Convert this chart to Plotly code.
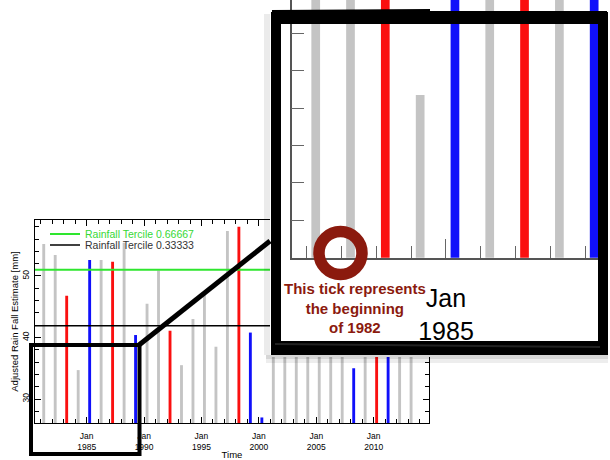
import plotly.graph_objects as go

W, H = 610, 460
FONT = "Liberation Sans, Arial, Helvetica, sans-serif"

# ---------------- data ----------------
YEARS = list(range(1981, 2014))
RAIN = [55.2, 53.4, 46.8, 34.7, 52.6, 52.6, 52.3, 55.4, 40.4,
        45.5, 50.9, 41.1, 35.5, 43.0, 46.9, 38.5, 57.3, 58.0, 40.8, 27.0,
        48.0, 44.5, 52.0, 41.5, 46.0, 50.5, 43.0, 35.0, 47.5, 53.0, 49.0, 45.0, 51.0]
PHASE = ["n", "n", "w", "n", "c", "n", "w", "n", "c",
         "n", "n", "w", "n", "n", "n", "n", "n", "w", "c", "c",
         "n", "n", "n", "n", "n", "n", "n", "c", "n", "w", "c", "n", "n"]
PHASE_COLOR = {"n": "#c4c4c4", "w": "#fa1010", "c": "#1010fa"}
TERCILE_NAMES = ["Rainfall Tercile 0.66667", "Rainfall Tercile 0.33333"]
TERCILE_VALUES = [51.0, 41.9]
TERCILE_COLORS = ["#2ee62e", "#000000"]
TERCILE_TEXT = ["#36d836", "#333333"]
LABEL_YEARS = [1985, 1990, 1995, 2000, 2005, 2010]
Y_LABELS = [30, 40, 50]
X_TITLE = "Time"
Y_TITLE = "Adjusted Rain Fall Estimate [mm]"
NOTE = "This tick represents<br>the beginning<br>of 1982"

MAIN_XRANGE = ["1980-07-01", "2014-10-27"]
MAIN_YRANGE = [26.1, 59.1]
INSET_XRANGE = ["1980-07-27", "1989-08-28"]
INSET_YRANGE = [26.0, 39.78]

dates = [f"{y}-04-05" for y in YEARS]
jan_all = [f"{y}-01-01" for y in range(1980, 2016)]
BAR_W = 0.25 * 365.25 * 86400000


def fx(x):
    return x / W


def fy(y):
    return 1 - y / H


fig = go.Figure()

for ph in ["n", "w", "c"]:
    xs = [d for d, p in zip(dates, PHASE) if p == ph]
    ys = [v for v, p in zip(RAIN, PHASE) if p == ph]
    fig.add_trace(go.Bar(x=xs, y=ys, width=BAR_W, marker_color=PHASE_COLOR[ph],
                         marker_line_width=0, showlegend=False,
                         xaxis="x", yaxis="y", hoverinfo="skip"))

for i, (nm, val, col) in enumerate(zip(TERCILE_NAMES, TERCILE_VALUES, TERCILE_COLORS)):
    fig.add_trace(go.Scatter(x=MAIN_XRANGE, y=[val, val], mode="lines",
                             line=dict(color=col, width=2 if i == 0 else 1.6),
                             name=nm, legend="legend" if i == 0 else "legend2",
                             xaxis="x", yaxis="y"))

# white panel that holds the inset (its own subplot so it hides the main chart behind it)
fig.add_trace(go.Scatter(x=[0.5], y=[0.5], mode="markers", marker=dict(opacity=0),
                         showlegend=False, hoverinfo="skip", xaxis="x2", yaxis="y2"))

# inset (zoom of early years)
for ph in ["n", "w", "c"]:
    xs = [d for d, p in zip(dates, PHASE) if p == ph]
    ys = [v for v, p in zip(RAIN, PHASE) if p == ph]
    fig.add_trace(go.Bar(x=xs, y=ys, width=BAR_W, marker_color=PHASE_COLOR[ph],
                         marker_line_width=0, showlegend=False,
                         xaxis="x3", yaxis="y3", hoverinfo="skip"))

axis_common = dict(showgrid=False, zeroline=False)

fig.update_layout(
    width=W, height=H,
    margin=dict(l=0, r=0, t=0, b=0),
    paper_bgcolor="white", plot_bgcolor="white",
    font=dict(family=FONT, color="#000"),
    barmode="overlay",
    showlegend=True,
    xaxis=dict(type="date", domain=[fx(35), fx(429)], range=MAIN_XRANGE, anchor="y",
               tickmode="array", tickvals=[f"{y}-01-01" for y in LABEL_YEARS],
               ticktext=[f"Jan<br>{y}" for y in LABEL_YEARS],
               ticks="inside", ticklen=6, tickcolor="#000", tickwidth=1,
               minor=dict(tickmode="array", tickvals=jan_all, ticks="inside", ticklen=4,
                          tickcolor="#000", tickwidth=1),
               showline=True, linecolor="#000", linewidth=1, mirror="ticks",
               tickfont=dict(size=8.5), ticklabelstandoff=5,
               title=dict(text=X_TITLE, font=dict(size=9.5), standoff=0),
               **axis_common),
    yaxis=dict(domain=[fy(423), fy(220)], range=MAIN_YRANGE, anchor="x",
               tickmode="array", tickvals=Y_LABELS, ticktext=[str(v) for v in Y_LABELS],
               ticks="inside", ticklen=6, tickcolor="#000",
               minor=dict(dtick=2, tick0=0, ticks="inside", ticklen=4, tickcolor="#000"),
               showline=True, linecolor="#000", linewidth=1, mirror="ticks",
               tickangle=-90, tickfont=dict(size=8.5), ticklabelstandoff=2,
               title=dict(text=Y_TITLE, font=dict(size=9.5), standoff=0),
               **axis_common),
    xaxis2=dict(domain=[fx(270), 1.0], range=[0, 1], anchor="y2",
                showline=False, ticks="", showticklabels=False, fixedrange=True,
                **axis_common),
    yaxis2=dict(domain=[fy(357), 1.0], range=[0, 1], anchor="x2",
                showline=False, ticks="", showticklabels=False, fixedrange=True,
                **axis_common),
    xaxis3=dict(type="date", domain=[fx(291.7), fx(608)], range=INSET_XRANGE, anchor="y3",
                tickmode="array", tickvals=[f"{y}-01-01" for y in LABEL_YEARS],
                ticktext=[f"Jan<br>{y}" for y in LABEL_YEARS],
                ticks="inside", ticklen=19, tickcolor="#666", tickwidth=1.2,
                minor=dict(tickmode="array", tickvals=jan_all, ticks="inside", ticklen=12,
                           tickcolor="#666", tickwidth=1.2),
                showline=True, linecolor="#555", linewidth=1.5,
                tickfont=dict(size=25, color="#000"), ticklabelstandoff=18,
                **axis_common),
    yaxis3=dict(domain=[fy(257.7), 1.0], range=INSET_YRANGE, anchor="x3",
                tickmode="linear", tick0=0, dtick=2, showticklabels=False,
                ticks="inside", ticklen=13, tickcolor="#666", tickwidth=1.2,
                showline=True, linecolor="#555", linewidth=1.5,
                **axis_common),
    legend=dict(x=fx(45), y=fy(234), xanchor="left", yanchor="middle",
                bgcolor="rgba(0,0,0,0)", font=dict(size=10.5, color=TERCILE_TEXT[0]),
                borderwidth=0),
    legend2=dict(x=fx(45), y=fy(245), xanchor="left", yanchor="middle",
                 bgcolor="rgba(0,0,0,0)", font=dict(size=10.5, color=TERCILE_TEXT[1]),
                 borderwidth=0),
)

shapes = []
BLK = "#000000"


def rect(x0, y0, x1, y1, fill=BLK):
    shapes.append(dict(type="rect", xref="paper", yref="paper", x0=fx(x0), x1=fx(x1),
                       y0=fy(y1), y1=fy(y0), fillcolor=fill, line=dict(width=0),
                       layer="above"))


def seg(x0, y0, x1, y1, w, col=BLK):
    shapes.append(dict(type="line", xref="paper", yref="paper", x0=fx(x0), x1=fx(x1),
                       y0=fy(y0), y1=fy(y1), line=dict(color=col, width=w), layer="above"))


# soft shadow of inset frame
rect(266, 355, 608, 359, "rgba(0,0,0,0.16)")
rect(266, 359, 608, 363, "rgba(0,0,0,0.07)")
rect(264, 14, 270, 355, "rgba(0,0,0,0.08)")
# hand drawn frame around inset
rect(273, 11, 607, 24)
seg(272, 11, 430, 10, 2)
rect(271, 12, 281, 352)
rect(598, 12, 608, 354)
rect(271, 341, 608, 355)
seg(275, 344, 600, 347, 2, "#222")
# hand drawn box on main chart and connector
shapes.append(dict(type="rect", xref="paper", yref="paper", x0=fx(31), x1=fx(139.5),
                   y0=fy(454), y1=fy(345), line=dict(color=BLK, width=4), layer="above"))
seg(139, 345, 270, 241, 5)
# ring
shapes.append(dict(type="circle", xref="paper", yref="paper", x0=fx(319), x1=fx(362),
                   y0=fy(274.5), y1=fy(231.5), line=dict(color="#8b1a0e", width=11.5),
                   layer="above"))

fig.update_layout(shapes=shapes)
fig.add_annotation(text=NOTE, xref="paper", yref="paper", x=fx(355), y=fy(308),
                   xanchor="center", yanchor="middle", showarrow=False,
                   font=dict(size=15, color="#8b1a0e", family=FONT, weight="bold"))

fig.write_html("out.html", config={"displayModeBar": False},
               post_script="document.body.style.margin='0px';document.body.style.overflow='hidden';")
